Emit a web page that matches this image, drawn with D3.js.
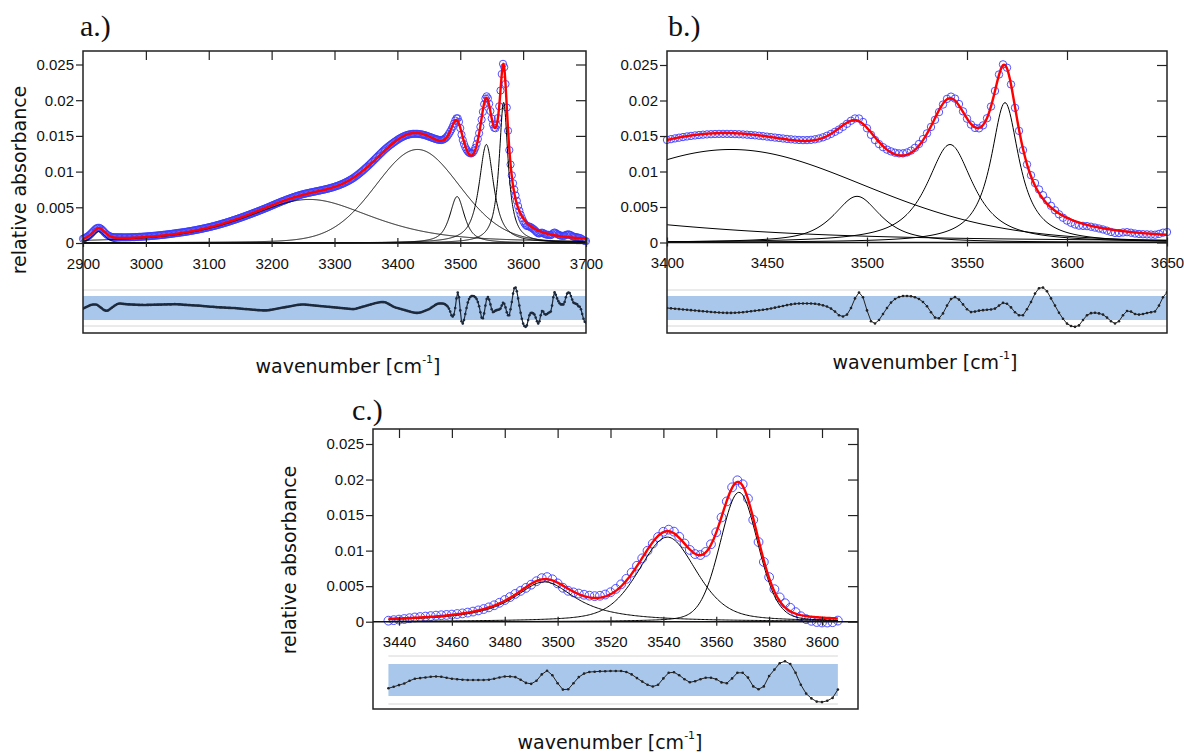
<!DOCTYPE html>
<html>
<head>
<meta charset="utf-8">
<script src="https://cdn.jsdelivr.net/npm/d3@7"></script>
<style>
html, body { margin: 0; padding: 0; background: #fff; }
svg { display: block; }
</style>
</head>
<body>
<svg id="chart" width="1184" height="753"></svg>
<script>
// ---------- Spectrum A (panels a and b) ----------
// wavenumber grid of the measured spectrum
const specA_start = 2900, specA_step = 2;
// fit residual at every measured point, in units of the noise level sigmaA
const residA = [
  -0.06,0.00,0.05,0.10,0.15,0.20,0.24,0.27,0.29,0.29,
  0.29,0.27,0.20,0.12,0.05,-0.03,-0.12,-0.18,-0.22,-0.23,
  -0.20,-0.13,-0.05,0.03,0.10,0.18,0.25,0.31,0.35,0.37,
  0.37,0.36,0.34,0.33,0.32,0.31,0.30,0.30,0.29,0.29,
  0.28,0.28,0.27,0.27,0.26,0.26,0.25,0.26,0.25,0.25,
  0.25,0.26,0.26,0.27,0.26,0.27,0.27,0.28,0.27,0.28,
  0.28,0.29,0.28,0.29,0.29,0.30,0.29,0.30,0.31,0.30,
  0.30,0.31,0.31,0.32,0.31,0.31,0.30,0.30,0.29,0.28,
  0.27,0.26,0.26,0.25,0.24,0.24,0.23,0.22,0.22,0.21,
  0.21,0.20,0.20,0.19,0.18,0.17,0.16,0.15,0.14,0.13,
  0.12,0.11,0.10,0.10,0.09,0.08,0.07,0.06,0.06,0.05,
  0.05,0.04,0.04,0.03,0.02,0.02,0.01,0.01,0.00,0.00,
  0.00,-0.01,-0.02,-0.03,-0.04,-0.05,-0.06,-0.07,-0.08,-0.09,
  -0.09,-0.10,-0.11,-0.12,-0.13,-0.14,-0.15,-0.16,-0.17,-0.18,
  -0.18,-0.19,-0.19,-0.20,-0.20,-0.20,-0.20,-0.19,-0.18,-0.16,
  -0.14,-0.12,-0.10,-0.08,-0.06,-0.04,-0.02,0.00,0.02,0.04,
  0.05,0.07,0.09,0.11,0.13,0.15,0.17,0.19,0.21,0.23,
  0.25,0.26,0.27,0.28,0.29,0.29,0.29,0.28,0.27,0.26,
  0.25,0.24,0.23,0.22,0.21,0.20,0.19,0.18,0.17,0.16,
  0.15,0.14,0.13,0.12,0.11,0.10,0.09,0.08,0.07,0.06,
  0.05,0.04,0.03,0.02,0.01,0.00,-0.01,-0.02,-0.03,-0.04,
  -0.05,-0.06,-0.07,-0.08,-0.09,-0.09,-0.08,-0.06,-0.03,0.00,
  0.03,0.06,0.09,0.12,0.15,0.18,0.21,0.24,0.27,0.30,
  0.33,0.36,0.39,0.42,0.44,0.46,0.48,0.49,0.49,0.49,
  0.48,0.45,0.40,0.34,0.28,0.22,0.16,0.11,0.06,0.02,
  0.00,-0.03,-0.06,-0.09,-0.12,-0.15,-0.18,-0.21,-0.24,-0.27,
  -0.30,-0.33,-0.36,-0.38,-0.40,-0.41,-0.41,-0.40,-0.38,-0.35,
  -0.31,-0.27,-0.23,-0.19,-0.15,-0.10,-0.04,0.03,0.10,0.17,
  0.24,0.30,0.35,0.37,0.38,0.38,0.37,0.35,0.30,0.22,
  0.12,-0.05,-0.30,-0.60,-0.71,-0.55,0.00,0.80,1.29,0.90,
  -0.20,-1.10,-1.29,-1.00,-0.50,0.00,0.45,0.75,0.92,1.00,
  1.00,0.98,0.90,0.75,0.50,0.15,-0.35,-0.80,-0.86,-0.45,
  0.20,0.75,0.91,0.70,0.30,-0.10,-0.34,-0.30,-0.22,-0.18,
  -0.15,-0.12,-0.05,0.20,0.43,0.35,0.05,-0.35,-0.60,-0.60,
  -0.10,0.50,1.20,1.65,1.70,1.40,0.80,0.20,-0.40,-0.90,
  -1.30,-1.50,-1.57,-1.45,-1.00,-0.60,-0.43,-0.40,-0.45,-0.55,
  -0.80,-1.10,-1.29,-1.10,-0.60,-0.25,-0.30,-0.50,-0.55,-0.50,
  -0.42,-0.35,-0.29,0.20,0.90,1.30,1.10,0.80,0.57,0.40,
  0.30,0.30,0.29,0.50,0.90,1.20,1.29,1.25,1.00,0.70,
  0.45,0.40,0.35,0.30,0.15,0.10,-0.10,-0.50,-0.90,-1.14,
  -1.20
];
const sigmaA = 0.0003;
// fitted bands: centre [cm-1], height, half width at half maximum, Lorentzian fraction
const compA_center = [2925, 3260, 3432, 3495, 3541.5, 3569];
const compA_height = [0.0016, 0.0061, 0.0131, 0.0065, 0.0138, 0.0197];
const compA_hwhm   = [12, 120, 80, 14, 14, 8.6];
const compA_eta    = [0.5, 0.6, 0.15, 0.8, 0.9, 1.0];

// ---------- Spectrum C (panel c) ----------
const specC_start = 3436, specC_step = 2;
const residC = [
  -0.52,-0.42,-0.32,-0.22,-0.05,0.08,0.12,0.16,0.20,0.22,
  0.20,0.14,0.08,0.05,0.02,0.00,0.00,0.00,0.00,0.02,
  0.08,0.16,0.22,0.22,0.18,0.02,-0.18,-0.24,-0.05,0.35,
  0.58,0.30,-0.20,-0.60,-0.58,-0.20,0.18,0.40,0.50,0.52,
  0.54,0.55,0.56,0.56,0.56,0.50,0.35,0.12,-0.10,-0.30,
  -0.41,-0.30,0.10,0.45,0.48,0.30,0.05,-0.14,-0.08,0.05,
  0.14,0.14,0.05,-0.15,-0.20,0.10,0.45,0.45,0.15,-0.40,
  -0.58,-0.40,0.25,0.65,1.05,1.17,1.00,0.45,-0.30,-0.85,
  -1.15,-1.35,-1.38,-1.30,-1.12,-0.60
];
const sigmaC = 0.0005;
const compC_center = [3495, 3541.5, 3568.6];
const compC_height = [0.0056, 0.0119, 0.0182];
const compC_hwhm   = [14.5, 13, 8.5];
const compC_eta    = [1.0, 0.4, 0.2];

// ---------- Axis ticks ----------
const yTicks = [0, 0.005, 0.01, 0.015, 0.02, 0.025];
const yTickLabels = ["0", "0.005", "0.01", "0.015", "0.02", "0.025"];
const xTicksA = [2900, 3000, 3100, 3200, 3300, 3400, 3500, 3600, 3700];
const xTicksB = [3400, 3450, 3500, 3550, 3600, 3650];
const xTicksC = [3440, 3460, 3480, 3500, 3520, 3540, 3560, 3580, 3600];

// ---------- Model ----------
function pseudoVoigt(x, c, h, w, eta) {
  const u = (x - c) / w;
  return h * (eta / (1 + u * u) + (1 - eta) * Math.exp(-Math.LN2 * u * u));
}
function buildComponents(centers, heights, widths, etas) {
  return centers.map((c, i) => ({ c, h: heights[i], w: widths[i], eta: etas[i] }));
}
function buildFit(comps) {
  return x => comps.reduce((s, k) => s + pseudoVoigt(x, k.c, k.h, k.w, k.eta), 0);
}
function buildPoints(start, step, resid, sigma, fit) {
  return resid.map((r, i) => {
    const x = start + step * i;
    return { x, r, y: fit(x) + r * sigma };
  });
}

const compsA = buildComponents(compA_center, compA_height, compA_hwhm, compA_eta);
const fitA = buildFit(compsA);
const pointsA = buildPoints(specA_start, specA_step, residA, sigmaA, fitA);

const compsC = buildComponents(compC_center, compC_height, compC_hwhm, compC_eta);
const fitC = buildFit(compsC);
const pointsC = buildPoints(specC_start, specC_step, residC, sigmaC, fitC);

// ---------- Drawing ----------
const svg = d3.select("#chart");
const tickFont = "'Liberation Sans', Arial, sans-serif";
const labelFont = "'DejaVu Sans', sans-serif";

function drawPanel(cfg) {
  const g = svg.append("g");
  const f = cfg.frame;
  const x = d3.scaleLinear().domain(cfg.xDomain).range(cfg.xRange);
  const y = d3.scaleLinear().domain([0, 0.025]).range(cfg.yRange);
  const yr = d3.scaleLinear().domain([-1, 1]).range([cfg.resMid + cfg.resHalf, cfg.resMid - cfg.resHalf]);

  const clipId = "clip-" + cfg.id;
  svg.append("defs").append("clipPath").attr("id", clipId)
    .append("rect").attr("x", f.l).attr("y", f.t).attr("width", f.r - f.l).attr("height", f.b - f.t);

  const pts = cfg.points.filter(p => p.x >= cfg.dataRange[0] && p.x <= cfg.dataRange[1]);

  // residual strip
  const bandX0 = Math.max(f.l, x(pts[0].x));
  const bandX1 = Math.min(f.r, x(pts[pts.length - 1].x));
  const strip = g.append("g").attr("clip-path", `url(#${clipId})`);
  strip.append("rect")
    .attr("x", bandX0).attr("width", bandX1 - bandX0)
    .attr("y", yr(1)).attr("height", yr(-1) - yr(1))
    .attr("fill", "#a9c7eb");
  [1.5, -1.5].forEach(v => {
    strip.append("line")
      .attr("x1", bandX0).attr("x2", bandX1)
      .attr("y1", yr(v)).attr("y2", yr(v))
      .attr("stroke", "#d6d6d6").attr("stroke-width", 1);
  });
  strip.append("path")
    .datum(pts)
    .attr("fill", "none").attr("stroke", cfg.resColor).attr("stroke-width", cfg.resWidth)
    .attr("d", d3.line().x(d => x(d.x)).y(d => yr(d.r)));
  strip.selectAll("circle.res").data(pts).join("circle")
    .attr("class", "res")
    .attr("cx", d => x(d.x)).attr("cy", d => yr(d.r)).attr("r", 1.3)
    .attr("fill", cfg.resColor);

  // measured points
  g.append("g").selectAll("circle").data(pts).join("circle")
    .attr("cx", d => x(d.x)).attr("cy", d => y(d.y)).attr("r", cfg.radius)
    .attr("fill", "none").attr("stroke", "#3c3cff").attr("stroke-width", 0.9);

  // fitted components and their sum
  const grid = d3.range(cfg.curveRange[0], cfg.curveRange[1] + 0.001, 0.5);
  const curves = g.append("g").attr("clip-path", `url(#${clipId})`);
  const line = d3.line().x(d => x(d[0])).y(d => y(d[1]));
  cfg.comps.forEach(k => {
    curves.append("path")
      .datum(grid.map(v => [v, pseudoVoigt(v, k.c, k.h, k.w, k.eta)]))
      .attr("fill", "none").attr("stroke", "#000").attr("stroke-width", 1)
      .attr("d", line);
  });
  curves.append("path")
    .datum(grid.map(v => [v, cfg.fit(v)]))
    .attr("fill", "none").attr("stroke", "#ff0000").attr("stroke-width", 2.4)
    .attr("d", line);

  // zero line
  g.append("line")
    .attr("x1", f.l).attr("x2", f.r).attr("y1", y(0)).attr("y2", y(0))
    .attr("stroke", "#111").attr("stroke-width", 1.6);

  // frame
  g.append("rect")
    .attr("x", f.l).attr("y", f.t).attr("width", f.r - f.l).attr("height", f.b - f.t)
    .attr("fill", "none").attr("stroke", "#222").attr("stroke-width", 1.5);

  // bottom ticks crossing the zero line, with labels
  const xAxis = g.append("g")
    .attr("transform", `translate(0,${y(0) - 5})`)
    .call(d3.axisBottom(x).tickValues(cfg.xTicks).tickSizeInner(9).tickSizeOuter(0).tickPadding(11)
      .tickFormat(d3.format("d")));
  // top ticks pointing inward
  const xTop = g.append("g")
    .attr("transform", `translate(0,${f.t})`)
    .call(d3.axisBottom(x).tickValues(cfg.xTicks).tickSizeInner(9).tickSizeOuter(0).tickFormat(""));
  // left axis with labels
  const yAxis = g.append("g")
    .attr("transform", `translate(${f.l},0)`)
    .call(d3.axisLeft(y).tickValues(yTicks).tickSizeInner(7).tickSizeOuter(0).tickPadding(2)
      .tickFormat((d, i) => yTickLabels[i]));
  // right ticks pointing inward
  const yRight = g.append("g")
    .attr("transform", `translate(${f.r},0)`)
    .call(d3.axisLeft(y).tickValues(yTicks).tickSizeInner(10).tickSizeOuter(0).tickFormat(""));

  [xAxis, xTop, yAxis, yRight].forEach(a => {
    a.select(".domain").remove();
    a.selectAll(".tick line").attr("stroke", "#222").attr("stroke-width", 1.2);
    a.selectAll("text").attr("font-family", tickFont).attr("font-size", 15).attr("fill", "#111");
  });
  xTop.selectAll(".tick").filter(d => x(d) <= f.l + 1 || x(d) >= f.r - 1).remove();

  // axis titles
  const xl = g.append("text")
    .attr("x", cfg.xLabelPos[0]).attr("y", cfg.xLabelPos[1])
    .attr("text-anchor", "middle").attr("dominant-baseline", "central")
    .attr("font-family", labelFont).attr("font-size", 19).attr("fill", "#111");
  xl.append("tspan").text("wavenumber [cm");
  xl.append("tspan").attr("dy", -7).attr("font-size", 11).text("-1");
  xl.append("tspan").attr("dy", 7).text("]");

  if (cfg.yLabelPos) {
    g.append("text")
      .attr("transform", `translate(${cfg.yLabelPos[0]},${cfg.yLabelPos[1]}) rotate(-90)`)
      .attr("text-anchor", "middle").attr("dominant-baseline", "central")
      .attr("font-family", labelFont).attr("font-size", 19).attr("fill", "#111")
      .text("relative absorbance");
  }

  // panel letter
  g.append("text")
    .attr("x", cfg.tagPos[0]).attr("y", cfg.tagPos[1])
    .attr("font-family", "'Liberation Serif', 'DejaVu Serif', serif").attr("font-size", 30).attr("fill", "#111")
    .text(cfg.tag);
}

drawPanel({
  id: "a", tag: "a.)", tagPos: [80, 36],
  frame: { l: 83, r: 586, t: 51, b: 333 },
  xDomain: [2900, 3700], xRange: [83, 586], yRange: [243, 64.5],
  xTicks: xTicksA,
  dataRange: [2900, 3700], curveRange: [2900, 3700],
  points: pointsA, comps: compsA, fit: fitA, radius: 3.6,
  resMid: 308, resHalf: 12, resColor: "#1d2a3c", resWidth: 1.2,
  xLabelPos: [348, 366], yLabelPos: [19, 180]
});

drawPanel({
  id: "b", tag: "b.)", tagPos: [668, 36],
  frame: { l: 667, r: 1167, t: 51, b: 333 },
  xDomain: [3400, 3650], xRange: [667, 1167], yRange: [242.5, 65],
  xTicks: xTicksB,
  dataRange: [3400, 3650], curveRange: [3400, 3650],
  points: pointsA, comps: compsA, fit: fitA, radius: 3.7,
  resMid: 308, resHalf: 12, resColor: "#222", resWidth: 1,
  xLabelPos: [925, 362], yLabelPos: null
});

drawPanel({
  id: "c", tag: "c.)", tagPos: [352, 420],
  frame: { l: 373, r: 858, t: 429, b: 709 },
  xDomain: [3440, 3600], xRange: [399, 822], yRange: [621.7, 444],
  xTicks: xTicksC,
  dataRange: [3436, 3606], curveRange: [3436, 3606],
  points: pointsC, comps: compsC, fit: fitC, radius: 4.4,
  resMid: 680, resHalf: 16, resColor: "#222", resWidth: 1,
  xLabelPos: [610, 742], yLabelPos: [289, 560]
});
</script>
</body>
</html>
